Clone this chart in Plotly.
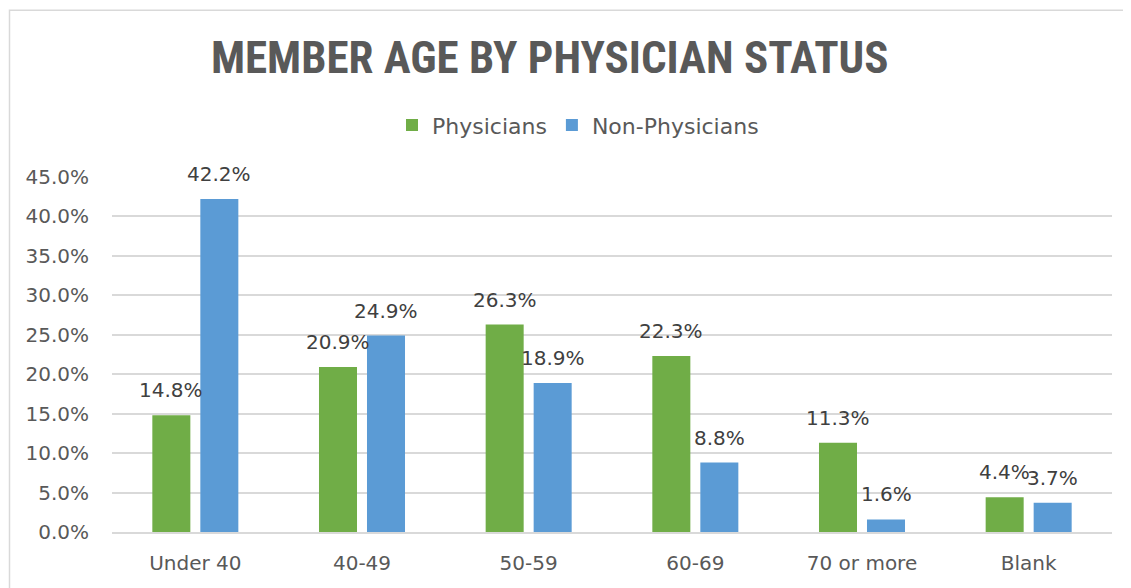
import plotly.graph_objects as go

categories = ["Under 40", "40-49", "50-59", "60-69", "70 or more", "Blank"]
physicians = [0.148, 0.209, 0.263, 0.223, 0.113, 0.044]
non_physicians = [0.422, 0.249, 0.189, 0.088, 0.016, 0.037]
series_names = ["Physicians", "Non-Physicians"]
colors = ["#70AD47", "#5B9BD5"]

FONT = "DejaVu Sans, sans-serif"

fig = go.Figure()
for name, vals, col in zip(series_names, [physicians, non_physicians], colors):
    fig.add_trace(go.Bar(
        x=categories, y=vals, name=name,
        marker=dict(color=col, line=dict(width=0)),
        hoverinfo="skip",
    ))

# data labels as annotations (Excel-like spacing above bars)
for i, vals in enumerate([physicians, non_physicians]):
    shift = -24 if i == 0 else 24
    for c, v in zip(categories, vals):
        fig.add_annotation(
            x=c, y=v, xref="x", yref="y", text=f"{v*100:.1f}%",
            showarrow=False, xshift=shift, yshift=25,
            font=dict(family=FONT, size=20, color="#404040"),
        )

# outer chart border (top & left visible)
fig.add_shape(type="path", xref="paper", yref="paper",
              path="M -0.1025,-0.3 L -0.1025,1.470 L 1.1,1.470",
              line=dict(color="#D9D9D9", width=1.5))

fig.update_layout(
    width=1131, height=588,
    margin=dict(l=104, r=27, t=169, b=64),
    paper_bgcolor="white", plot_bgcolor="white",
    title=dict(text="<b>MEMBER AGE BY PHYSICIAN STATUS</b>",
               x=0.479, xanchor="center", y=0.9167, yanchor="middle",
               font=dict(family="Liberation Sans Narrow, Roboto Condensed, Arial Narrow, sans-serif",
                         size=45, color="#595959")),
    legend=dict(orientation="h", x=0.466, xanchor="center", y=1.146, yanchor="middle",
                font=dict(family=FONT, size=22, color="#595959"),
                itemwidth=30, traceorder="normal"),
    barmode="group", bargap=0.424, bargroupgap=0.208,
    xaxis=dict(showgrid=False, showline=True, linecolor="#D9D9D9", linewidth=1.5,
               ticks="", ticklabelstandoff=12,
               tickfont=dict(family=FONT, size=20, color="#595959"),
               fixedrange=True),
    yaxis=dict(range=[0, 0.45], dtick=0.05, tickformat=".1%",
               showgrid=True, gridcolor="#D9D9D9", gridwidth=1.5,
               zeroline=False, showline=False, ticks="", ticklabelstandoff=22,
               tickfont=dict(family=FONT, size=20, color="#595959"),
               fixedrange=True),
    showlegend=True,
)

fig.write_html("out.html")
